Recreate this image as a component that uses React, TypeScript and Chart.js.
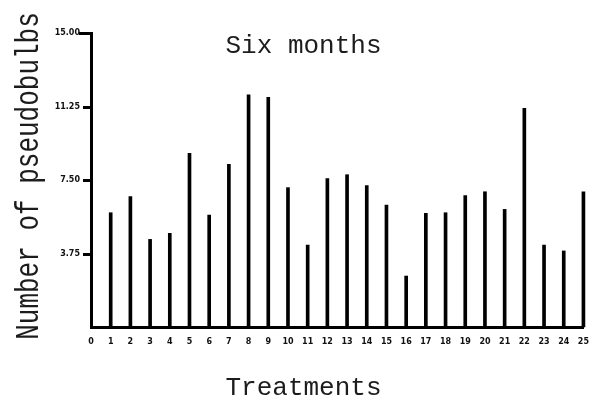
import React, { useEffect, useRef } from "react";
import { Chart, registerables } from "chart.js";

Chart.register(...registerables);

const CHART_TITLE = "Six months";
const X_TITLE = "Treatments";
const Y_TITLE = "Number of pseudobulbs";

const treatments = [
  "0", "1", "2", "3", "4", "5", "6", "7", "8", "9", "10", "11", "12",
  "13", "14", "15", "16", "17", "18", "19", "20", "21", "22", "23", "24", "25",
];

const pseudobulbs: (number | null)[] = [
  null, 5.83, 6.65, 4.47, 4.78, 8.86, 5.71, 8.3, 11.84, 11.72, 7.11, 4.18, 7.57,
  7.77, 7.21, 6.22, 2.6, 5.8, 5.83, 6.7, 6.9, 6.0, 11.16, 4.18, 3.88, 6.9,
];

const yTickValues = [3.75, 7.5, 11.25, 15];
const yTickLabels = ["3.75", "7.50", "11.25", "15.00"];

const textPlugin = {
  id: "handTexts",
  afterDraw(chart: any) {
    const ctx = chart.ctx as CanvasRenderingContext2D;
    const w = chart.width;
    const yScale = chart.scales.y;
    const left = chart.chartArea.left;
    ctx.save();
    ctx.fillStyle = "#000";
    yTickValues.forEach((v, i) => {
      const py = Math.round(yScale.getPixelForValue(v));
      const len = i === yTickValues.length - 1 ? 12 : 8;
      ctx.fillRect(left - len, py - 1, len + 1, 3);
    });
    ctx.fillStyle = "#1c1c1c";
    ctx.font = '26px "Liberation Mono"';
    ctx.textAlign = "center";
    ctx.textBaseline = "alphabetic";
    ctx.fillText(CHART_TITLE, w / 2 + 4, 53);
    ctx.fillText(X_TITLE, w / 2 + 4, 395);
    ctx.translate(38, 176);
    ctx.rotate(-Math.PI / 2);
    ctx.scale(1, 1.3);
    ctx.fillText(Y_TITLE, 0, 0);
    ctx.restore();
  },
};

export default function App() {
  const ref = useRef<HTMLCanvasElement | null>(null);

  useEffect(() => {
    if (!ref.current) return;
    const chart = new Chart(ref.current, {
      type: "bar",
      data: {
        labels: treatments,
        datasets: [
          {
            data: pseudobulbs,
            backgroundColor: "#000",
            borderWidth: 0,
            barThickness: 3,
            clip: false,
          },
        ],
      },
      plugins: [textPlugin],
      options: {
        animation: false,
        responsive: false,
        devicePixelRatio: 1,
        layout: { padding: { left: 0, right: 13, top: 33, bottom: 0 } },
        plugins: {
          legend: { display: false },
          title: { display: false },
          tooltip: { enabled: false },
        },
        scales: {
          x: {
            type: "category",
            offset: false,
            grid: { display: false, drawTicks: false },
            border: { display: true, color: "#000", width: 3 },
            ticks: {
              padding: 10,
              autoSkip: false,
              maxRotation: 0,
              color: "#111",
              font: { family: "DejaVu Sans", size: 8, weight: "bold" },
            },
            afterFit: (scale: any) => {
              scale.height = 76;
            },
          },
          y: {
            min: 0,
            max: 15,
            grid: { display: false, drawTicks: false },
            border: { display: true, color: "#000", width: 3 },
            afterBuildTicks: (scale: any) => {
              scale.ticks = yTickValues.map((v) => ({ value: v }));
            },
            ticks: {
              padding: 11,
              color: "#111",
              font: { family: "DejaVu Sans", size: 8, weight: "bold" },
              callback: (value: any) => {
                const i = yTickValues.indexOf(Number(value));
                return i >= 0 ? yTickLabels[i] : "";
              },
            },
            afterFit: (scale: any) => {
              scale.width = 91;
            },
          },
        },
      },
    });
    return () => chart.destroy();
  }, []);

  return (
    <div style={{ position: "fixed", left: 0, top: 0, width: 599, height: 403, background: "#fff" }}>
      <canvas ref={ref} width={599} height={403} style={{ display: "block" }} />
    </div>
  );
}
